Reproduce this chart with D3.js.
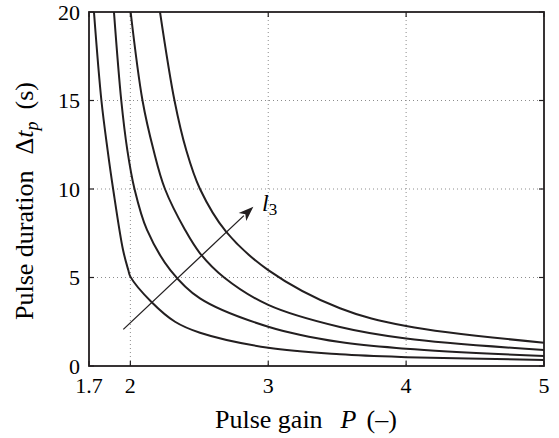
<!DOCTYPE html>
<html><head><meta charset="utf-8">
<script src="https://cdn.jsdelivr.net/npm/d3@7"></script>
<style>
body{margin:0;background:#fff}
svg text{font-family:"Liberation Serif","Times New Roman",Times,serif;fill:#000;white-space:pre}
</style>
</head><body><svg id="c" width="559" height="438" font-family="Liberation Serif"></svg>
<script>
// ---- data ----
const xTicks = [1.7, 2, 3, 4, 5];
const xTickLabels = ["1.7", "2", "3", "4", "5"];
const yTicks = [0, 5, 10, 15, 20];
const yTickLabels = ["0", "5", "10", "15", "20"];
const curveA = [[1.736,20],[1.79,15],[1.835,12.2],[1.875,10],[1.947,6.55],[1.985,5.42],[2.0,5.05],[2.155,3.6],[2.324,2.5],[2.505,1.88],[3,1.03],[3.52,0.66],[4,0.5],[5,0.34]];
const curveB = [[1.881,20],[1.934,15],[1.978,12.2],[2.03,10],[2.12,7.7],[2.29,5.42],[2.505,3.82],[3,2.22],[3.52,1.35],[4,0.98],[5,0.56]];
const curveC = [[2.002,20],[2.088,15],[2.168,12.2],[2.251,10],[2.396,7.7],[2.505,6.37],[2.68,5.0],[3,3.45],[3.52,2.2],[4,1.55],[5,0.90]];
const curveD = [[2.215,20],[2.32,15],[2.405,12.2],[2.505,10],[2.694,7.59],[3,5.42],[3.52,3.26],[4,2.26],[5,1.32]];
const arrowFrom = [1.949, 2.07];
const arrowTo = [2.892, 9.0];

// ---- layout ----
const svg = d3.select("#c");
const L = 89, R = 544, T = 12, B = 366;
const FONT = "'Liberation Serif', 'Times New Roman', serif";
const x = d3.scaleLinear().domain([1.7, 5]).range([L, R]);
const y = d3.scaleLinear().domain([0, 20]).range([B, T]);

// grid
const g = svg.append("g");
g.selectAll(".gx").data(xTicks.filter(d => d > 1.7 && d < 5)).enter().append("line")
  .attr("x1", d => x(d)).attr("x2", d => x(d)).attr("y1", T).attr("y2", B)
  .attr("stroke", "#8c8c8c").attr("stroke-width", 1).attr("stroke-dasharray", "1,3");
g.selectAll(".gy").data(yTicks.filter(d => d > 0 && d < 20)).enter().append("line")
  .attr("y1", d => y(d)).attr("y2", d => y(d)).attr("x1", L).attr("x2", R)
  .attr("stroke", "#8c8c8c").attr("stroke-width", 1).attr("stroke-dasharray", "1,3");

// clip
svg.append("clipPath").attr("id", "clip").append("rect")
  .attr("x", L).attr("y", T).attr("width", R - L).attr("height", B - T);

// curves
const line = d3.line().x(d => x(d[0])).y(d => y(d[1])).curve(d3.curveCatmullRom.alpha(0.5));
svg.append("g").attr("clip-path", "url(#clip)")
  .selectAll("path").data([curveA, curveB, curveC, curveD]).enter().append("path")
  .attr("d", line).attr("fill", "none").attr("stroke", "#231f20").attr("stroke-width", 2);

// arrow
{
  const x0 = x(arrowFrom[0]), y0 = y(arrowFrom[1]), x1 = x(arrowTo[0]), y1 = y(arrowTo[1]);
  const ang = Math.atan2(y1 - y0, x1 - x0);
  const hl = 15, hw = 5.5;
  const bx = x1 - hl * Math.cos(ang), by = y1 - hl * Math.sin(ang);
  svg.append("line").attr("x1", x0).attr("y1", y0).attr("x2", bx + 2 * Math.cos(ang)).attr("y2", by + 2 * Math.sin(ang))
    .attr("stroke", "#231f20").attr("stroke-width", 1.3);
  const px = -Math.sin(ang), py = Math.cos(ang);
  svg.append("path").attr("d", `M${x1},${y1}L${bx + hw * px},${by + hw * py}L${bx + 4 * Math.cos(ang)},${by + 4 * Math.sin(ang)}L${bx - hw * px},${by - hw * py}Z`)
    .attr("fill", "#231f20");
  const lab = svg.append("text").attr("x", x(2.955)).attr("y", y(8.76)).attr("font-size", 24).attr("font-family", FONT);
  lab.append("tspan").attr("font-style", "italic").text("l");
  lab.append("tspan").attr("font-size", 17).attr("dy", 4).text("3");
}

// box
svg.append("rect").attr("x", L).attr("y", T).attr("width", R - L).attr("height", B - T)
  .attr("fill", "none").attr("stroke", "#231f20").attr("stroke-width", 1.8);

// ticks (inward, all sides)
const tk = 5;
xTicks.forEach(d => {
  svg.append("line").attr("x1", x(d)).attr("x2", x(d)).attr("y1", B).attr("y2", B - tk).attr("stroke", "#231f20").attr("stroke-width", 1.2);
  svg.append("line").attr("x1", x(d)).attr("x2", x(d)).attr("y1", T).attr("y2", T + tk).attr("stroke", "#231f20").attr("stroke-width", 1.2);
});
yTicks.forEach(d => {
  svg.append("line").attr("y1", y(d)).attr("y2", y(d)).attr("x1", L).attr("x2", L + tk).attr("stroke", "#231f20").attr("stroke-width", 1.2);
  svg.append("line").attr("y1", y(d)).attr("y2", y(d)).attr("x1", R).attr("x2", R - tk).attr("stroke", "#231f20").attr("stroke-width", 1.2);
});

// tick labels
svg.selectAll(".xl").data(xTicks).enter().append("text")
  .attr("x", d => x(d)).attr("y", 393).attr("text-anchor", "middle").attr("font-size", 22).attr("font-family", FONT)
  .text((d, i) => xTickLabels[i]);
svg.selectAll(".yl").data(yTicks).enter().append("text")
  .attr("x", 80).attr("y", d => y(d) + 7.5).attr("text-anchor", "end").attr("font-size", 22).attr("font-family", FONT)
  .text((d, i) => yTickLabels[i]);

// axis titles
const xt = svg.append("text").attr("x", 215).attr("y", 428).attr("text-anchor", "start").attr("font-size", 26).attr("font-family", FONT);
xt.append("tspan").text("Pulse gain");
xt.append("tspan").attr("dx", 18).attr("font-style", "italic").text("P");
xt.append("tspan").attr("dx", 10).text("(–)");

const yt = svg.append("text").attr("transform", "translate(33,320) rotate(-90)").attr("text-anchor", "start").attr("font-size", 26).attr("font-family", FONT);
yt.append("tspan").text("Pulse duration");
yt.append("tspan").attr("dx", 16).text("Δ");
yt.append("tspan").attr("font-style", "italic").text("t");
yt.append("tspan").attr("font-style", "italic").attr("font-size", 18).attr("dy", 5).text("p");
yt.append("tspan").attr("dy", -5).attr("dx", 12).text("(s)");
</script>
</body></html>
